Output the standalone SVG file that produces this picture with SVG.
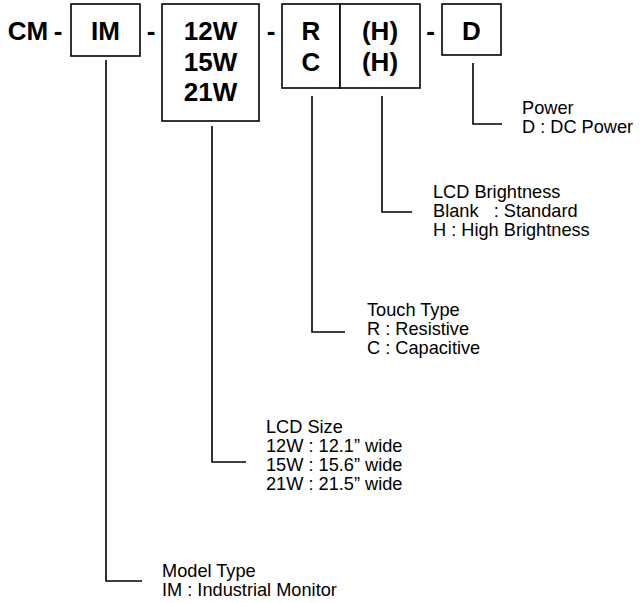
<svg xmlns="http://www.w3.org/2000/svg" width="644" height="603" viewBox="0 0 644 603">
<style>
.box{fill:#fff;stroke:#000;stroke-width:1.6}
.b{font-family:"Liberation Sans",Arial,sans-serif;font-weight:bold;font-size:26px;fill:#000;text-anchor:middle}
.t{font-family:"Liberation Sans",Arial,sans-serif;font-size:18.2px;fill:#000}
.c{fill:none;stroke:#000;stroke-width:1.6}
</style>
<rect width="644" height="603" fill="#fff"/>
<g id="prefix">
<text class="b" x="28" y="40">CM</text>
<text class="b" x="58" y="40">-</text>
<text class="b" x="151" y="40">-</text>
<text class="b" x="271" y="40">-</text>
<text class="b" x="430.5" y="40">-</text>
</g>
<g id="node-im">
<rect class="box" x="71" y="4" width="69" height="52"/>
<text class="b" x="105.5" y="40">IM</text>
</g>
<g id="node-size">
<rect class="box" x="162" y="4" width="97" height="117"/>
<text class="b" x="210.5" y="40">12W</text>
<text class="b" x="210.5" y="71">15W</text>
<text class="b" x="210.5" y="101">21W</text>
</g>
<g id="node-touch">
<rect class="box" x="282" y="4" width="58" height="84"/>
<text class="b" x="311" y="40">R</text>
<text class="b" x="311" y="71">C</text>
</g>
<g id="node-bright">
<rect class="box" x="340" y="4" width="80" height="84"/>
<text class="b" x="380" y="40">(H)</text>
<text class="b" x="380" y="71">(H)</text>
</g>
<g id="node-power">
<rect class="box" x="442" y="4" width="59" height="51"/>
<text class="b" x="471.5" y="40">D</text>
</g>
<g id="connectors">
<path class="c" d="M106,60 V581 H142"/>
<path class="c" d="M212,126 V462 H246"/>
<path class="c" d="M312,96 V332 H345"/>
<path class="c" d="M382,96 V212 H412"/>
<path class="c" d="M473,63 V124 H502"/>
</g>
<g id="label-power">
<text class="t" x="522" y="114">Power</text>
<text class="t" x="522" y="133">D : DC Power</text>
</g>
<g id="label-bright">
<text class="t" x="433" y="197.5">LCD Brightness</text>
<text class="t" x="433" y="216.5" xml:space="preserve">Blank   : Standard</text>
<text class="t" x="433" y="235.5">H : High Brightness</text>
</g>
<g id="label-touch">
<text class="t" x="367" y="315.5">Touch Type</text>
<text class="t" x="367" y="334.5">R : Resistive</text>
<text class="t" x="367" y="353.5">C : Capacitive</text>
</g>
<g id="label-size">
<text class="t" x="266" y="432.5">LCD Size</text>
<text class="t" x="266" y="451.5">12W : 12.1” wide</text>
<text class="t" x="266" y="470.5">15W : 15.6” wide</text>
<text class="t" x="266" y="489.5">21W : 21.5” wide</text>
</g>
<g id="label-model">
<text class="t" x="162" y="576.5">Model Type</text>
<text class="t" x="162" y="595.5">IM : Industrial Monitor</text>
</g>
</svg>
